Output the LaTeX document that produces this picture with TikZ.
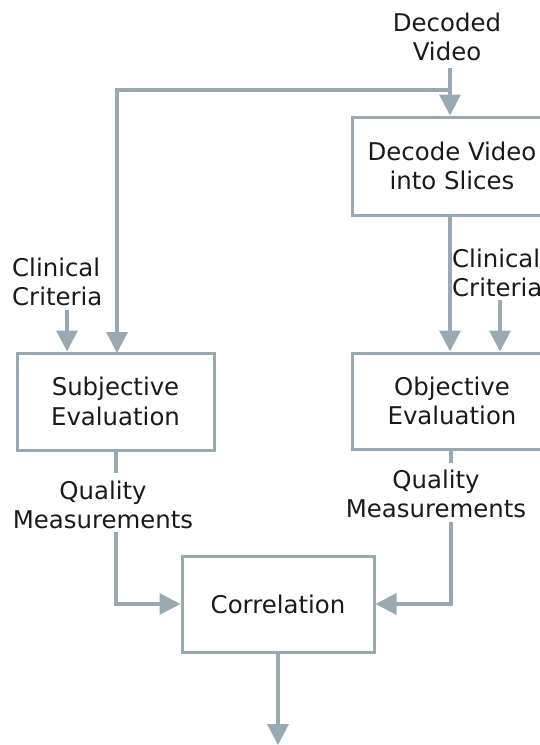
\documentclass[tikz,border=0pt]{standalone}
\usepackage{fontspec}
\setmainfont{DejaVu Sans}
\usetikzlibrary{arrows.meta}
\definecolor{flowline}{HTML}{9AA8B2}
\definecolor{inktext}{HTML}{1A1A1A}
\begin{document}
\begin{tikzpicture}[x=1pt,y=-1pt,
  every node/.style={text=inktext,font=\fontsize{24.4}{29.5}\selectfont},
  stagebox/.style={draw=flowline,line width=3pt,fill=white,rectangle,align=center,inner sep=0pt},
  caption/.style={align=center,inner sep=0pt},
  flow/.style={draw=flowline,line width=3.2pt},
  arrowflow/.style={flow,-{Triangle[width=21pt,length=21pt]}}
]
\useasboundingbox (0,0) rectangle (539,745);

% processing stages
\node[stagebox,minimum width=200pt,minimum height=98pt] (slice) at (452,166) {Decode Video\\into Slices};
\node[stagebox,minimum width=197pt,minimum height=97pt] (subj) at (115.5,401.5) {Subjective\\Evaluation};
\node[stagebox,minimum width=200pt,minimum height=96pt] (obj) at (452,401) {Objective\\Evaluation};
\node[stagebox,minimum width=192pt,minimum height=96pt] (corr) at (278,604) {Correlation};

% inputs and intermediate labels
\node[caption] (dv) at (447,37) {Decoded\\Video};
\node[caption,align=left,anchor=west] (critL) at (12,282) {Clinical\\Criteria};
\node[caption,align=left,anchor=west] (critR) at (452,273) {Clinical\\Criteria};
\node[caption] (qmL) at (103,505) {Quality\\Measurements};
\node[caption] (qmR) at (436,494) {Quality\\Measurements};

% connector end points
\coordinate (dvEnd) at (450,68);
\coordinate (split) at (450,90);
\coordinate (cLStart) at (67,310);
\coordinate (cRStart) at (500,300);
\coordinate (qLtop) at (116,473);
\coordinate (qLbot) at (116,532);
\coordinate (qRtop) at (451,463);
\coordinate (qRbot) at (451,522);
\coordinate (outEnd) at (278,745);

% connectors
\draw[arrowflow] (dvEnd) -- (slice.north -| split);
\draw[arrowflow] (split) -- (117,90) -- (117,353);
\draw[arrowflow] (slice.south -| split) -- (obj.north -| split);
\draw[arrowflow] (cLStart) -- (cLStart |- subj.north);
\draw[arrowflow] (cRStart) -- (cRStart |- obj.north);
\draw[flow] (subj.south -| qLtop) -- (qLtop);
\draw[flow] (obj.south -| qRtop) -- (qRtop);
\draw[arrowflow] (qLbot) |- (corr.west);
\draw[arrowflow] (qRbot) |- (corr.east);
\draw[arrowflow] (corr.south) -- (outEnd);
\end{tikzpicture}
\end{document}
